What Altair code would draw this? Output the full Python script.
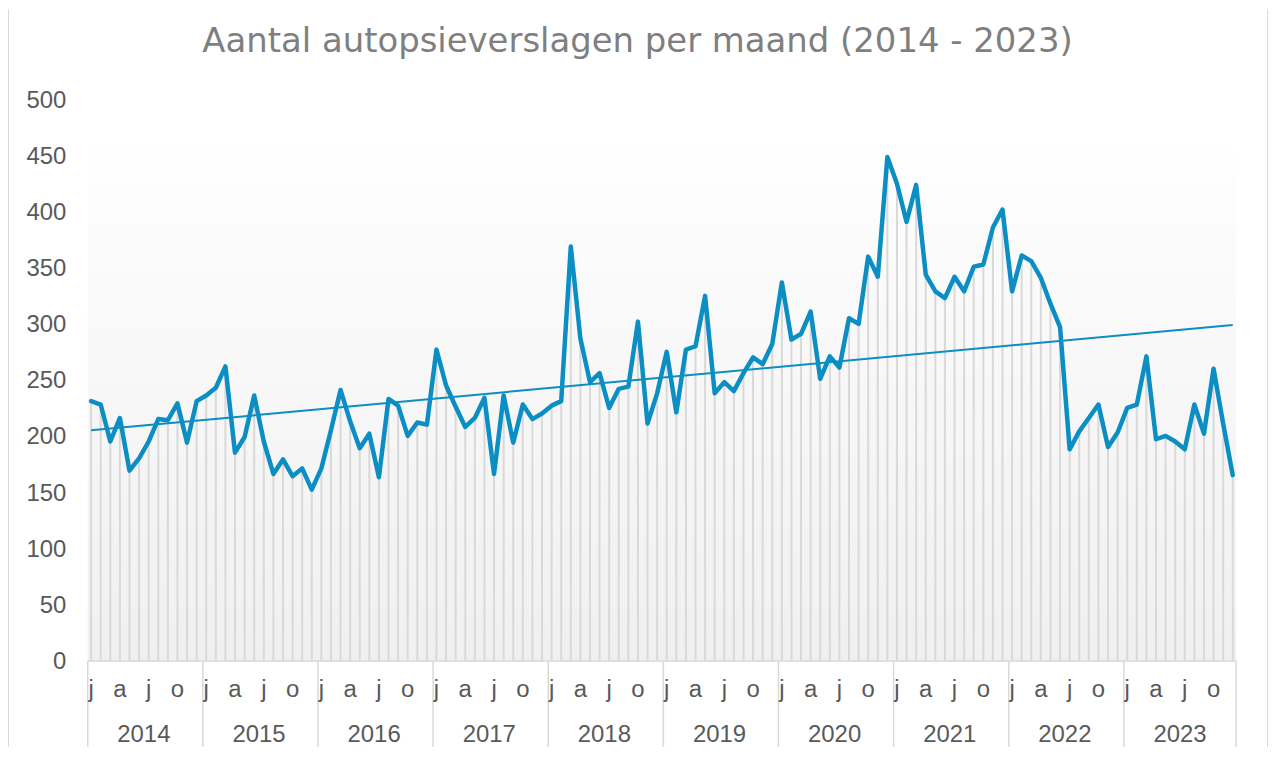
import altair as alt
import pandas as pd

# ---------------- data ----------------
years = [2014, 2015, 2016, 2017, 2018, 2019, 2020, 2021, 2022, 2023]
month_letters = ["j", "f", "m", "a", "m", "j", "j", "a", "s", "o", "n", "d"]
labelled_months = [0, 3, 6, 9]  # jan, apr, jul, oct

v2014 = [232, 229, 196, 217, 170, 181, 196, 216, 215, 230, 195, 232]
v2015 = [237, 244, 263, 186, 200, 237, 196, 167, 180, 165, 172, 153]
v2016 = [172, 206, 242, 214, 190, 203, 164, 234, 228, 201, 213, 211]
v2017 = [278, 246, 227, 209, 217, 235, 167, 237, 195, 229, 216, 221]
v2018 = [228, 232, 370, 288, 249, 257, 226, 243, 245, 303, 212, 239]
v2019 = [276, 222, 278, 281, 326, 239, 249, 241, 257, 271, 265, 283]
v2020 = [338, 287, 292, 312, 252, 272, 262, 306, 301, 361, 343, 450]
v2021 = [426, 392, 425, 345, 330, 324, 343, 330, 352, 354, 387, 403]
v2022 = [330, 362, 357, 342, 319, 298, 189, 205, 217, 229, 191, 204]
v2023 = [226, 229, 272, 198, 201, 196, 189, 229, 203, 261, 212, 166]
values_by_year = [v2014, v2015, v2016, v2017, v2018, v2019, v2020, v2021, v2022, v2023]

title_text = "Aantal autopsieverslagen per maand (2014 - 2023)"
y_ticks = [0, 50, 100, 150, 200, 250, 300, 350, 400, 450, 500]

# ---------------- tables ----------------
rows = []
for k, (yr, vals) in enumerate(zip(years, values_by_year)):
    for m, v in enumerate(vals):
        rows.append({"i": k * 12 + m, "v": v, "year": yr, "m": m,
                     "letter": month_letters[m]})
df = pd.DataFrame(rows)
df_months = df[df["m"].isin(labelled_months)]

n = len(df)
x_lo, x_hi = -0.35, n - 1 + 0.35
sep = [x_lo] + [12 * k - 0.35 for k in range(1, len(years))] + [x_hi]
df_sep = pd.DataFrame({"pos": sep})
df_years = pd.DataFrame({"pos": [12 * k + 5.5 for k in range(len(years))],
                         "label": [str(y) for y in years]})

# ---------------- styling ----------------
W, H = 1152, 562
BLUE = "#0a8ec3"
GREY_LINE = "#d9d9d9"
TXT = "#595959"
FONT = "Liberation Sans"

xscale = alt.Scale(domain=[x_lo, x_hi], nice=False, zero=False)
yscale = alt.Scale(domain=[0, 500], nice=False)
yaxis = alt.Axis(values=y_ticks, domain=False, ticks=False, grid=False,
                 labelFontSize=24, labelColor=TXT, labelFont=FONT,
                 labelPadding=22, title=None)

one = pd.DataFrame({"a": [0]})

bg = alt.Chart(one).mark_rect(
    color=alt.Gradient(
        gradient="linear", x1=0, x2=0, y1=0, y2=1,
        stops=[alt.GradientStop(color="#ffffff", offset=0),
               alt.GradientStop(color="#fbfbfb", offset=0.2),
               alt.GradientStop(color="#f0f0f0", offset=1)],
    )
).encode(x=alt.value(0), x2=alt.value(W), y=alt.value(40), y2=alt.value(H))

drops = alt.Chart(df).mark_rule(color=GREY_LINE, strokeWidth=2).encode(
    x=alt.X("i:Q", scale=xscale, axis=None),
    y=alt.Y("v:Q", scale=yscale, axis=yaxis),
    y2=alt.value(H),
)

line = alt.Chart(df).mark_line(
    color=BLUE, strokeWidth=4.5, strokeJoin="round", strokeCap="round"
).encode(
    x=alt.X("i:Q", scale=xscale, axis=None),
    y=alt.Y("v:Q", scale=yscale, axis=yaxis),
)

trend = alt.Chart(df).transform_regression("i", "v").mark_line(
    color=BLUE, strokeWidth=2
).encode(
    x=alt.X("i:Q", scale=xscale, axis=None),
    y=alt.Y("v:Q", scale=yscale, axis=yaxis),
)

baseline = alt.Chart(one).mark_rule(color=GREY_LINE, strokeWidth=1.5).encode(
    x=alt.value(0), x2=alt.value(W), y=alt.value(H)
)

separators = alt.Chart(df_sep).mark_rule(color=GREY_LINE, strokeWidth=1.5).encode(
    x=alt.X("pos:Q", scale=xscale, axis=None),
    y=alt.value(H), y2=alt.value(H + 88),
)

month_text = alt.Chart(df_months).mark_text(
    fontSize=24, font=FONT, color=TXT, baseline="alphabetic", align="center"
).encode(
    x=alt.X("i:Q", scale=xscale, axis=None),
    y=alt.value(H + 36),
    text="letter:N",
)

year_text = alt.Chart(df_years).mark_text(
    fontSize=24, font=FONT, color=TXT, baseline="alphabetic", align="center"
).encode(
    x=alt.X("pos:Q", scale=xscale, axis=None),
    y=alt.value(H + 81),
    text="label:N",
)

title = alt.Chart(pd.DataFrame({"t": [title_text]})).mark_text(
    fontSize=34, font="DejaVu Sans", color="#7f7f7f",
    baseline="alphabetic", align="center"
).encode(x=alt.value(551.5), y=alt.value(-49), text="t:N")

border = alt.Chart(pd.DataFrame({"bx": [-79.5, 1183.5]})).mark_rule(
    color=GREY_LINE, strokeWidth=1
).encode(x=alt.X("bx:Q", scale=None), y=alt.value(-92), y2=alt.value(H + 95))

chart = alt.layer(
    bg, drops, line, trend, baseline, separators, month_text, year_text,
    title, border
).properties(
    width=W, height=H,
    autosize=alt.AutoSizeParams(type="none"),
    padding={"left": 80, "top": 92, "right": 32, "bottom": 85},
).configure_view(stroke=None)

chart.save("out.html", embed_options={"renderer": "svg", "actions": False})
